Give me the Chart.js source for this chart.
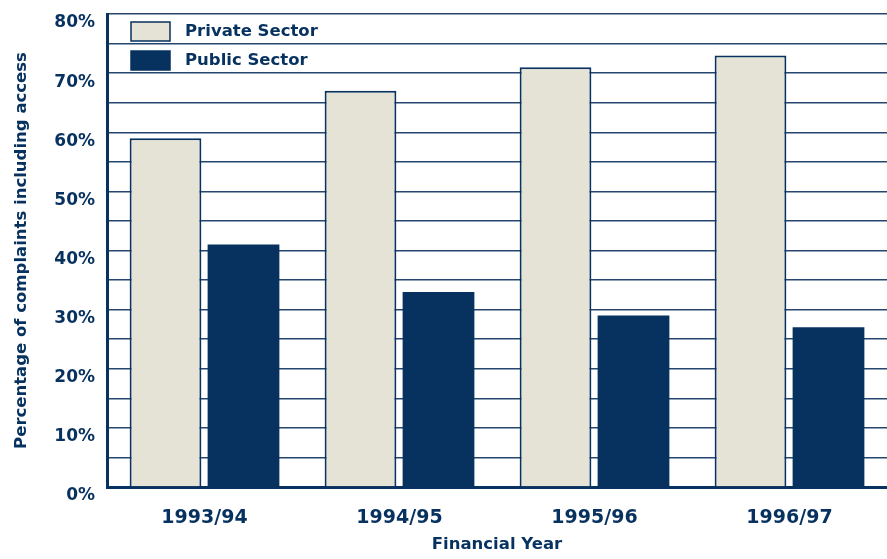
<html>
<head>
    <title>Complaints including access</title>
    <script src="https://cdn.jsdelivr.net/npm/chart.js"></script>
    <style>
        body { margin: 0; background: #fff; }
        #wrap { width: 887px; height: 559px; }
    </style>
</head>
<body>
<div id="wrap"><canvas id="chart" width="887" height="559"></canvas></div>

<script>
    // data
    const years = ['1993/94', '1994/95', '1995/96', '1996/97'];
    const privateSector = [59, 67, 71, 73];
    const publicSector = [41, 33, 29, 27];

    const navy = '#07325f';
    const beige = '#e5e3d6';
    const font = 'DejaVu Sans';

    // legend drawn inside the plot area, top left
    const boxLegend = {
        id: 'boxLegend',
        afterDraw(chart) {
            const c = chart.ctx;
            const a = chart.chartArea;
            chart.data.datasets.forEach((ds, i) => {
                const y = a.top + 8 + i * 29;
                c.save();
                c.fillStyle = ds.backgroundColor;
                c.fillRect(a.left + 24, y, 39, 19);
                c.strokeStyle = navy;
                c.lineWidth = 1.5;
                c.strokeRect(a.left + 24, y, 39, 19);
                c.fillStyle = navy;
                c.font = 'bold 16.5px ' + font;
                c.textBaseline = 'middle';
                c.fillText(ds.label, a.left + 78, y + 10);
                c.restore();
            });
        }
    };

    const ctx = document.getElementById('chart').getContext('2d');
    new Chart(ctx, {
        type: 'bar',
        data: {
            labels: years,
            datasets: [{
                label: 'Private Sector',
                data: privateSector,
                backgroundColor: beige,
                borderColor: navy,
                borderWidth: 2
            }, {
                label: 'Public Sector',
                data: publicSector,
                backgroundColor: navy,
                borderColor: navy,
                borderWidth: 0
            }]
        },
        options: {
            responsive: false,
            animation: false,
            layout: { padding: { top: 14, right: 0 } },
            datasets: {
                bar: { categoryPercentage: 0.8, barPercentage: 0.92 }
            },
            plugins: {
                legend: { display: false },
                tooltip: { enabled: false }
            },
            scales: {
                x: {
                    grid: { display: false },
                    border: { color: navy, width: 3 },
                    ticks: {
                        color: navy,
                        font: { family: font, size: 19, weight: 'bold' },
                        padding: 12
                    },
                    title: {
                        display: true,
                        text: 'Financial Year',
                        color: navy,
                        font: { family: font, size: 16.5, weight: 'bold' },
                        padding: { top: 6 }
                    },
                    afterFit(scale) { scale.height = 72; }
                },
                y: {
                    min: 0,
                    max: 80,
                    grid: { color: '#25466f', lineWidth: 1.5, drawTicks: false },
                    border: { color: navy, width: 3 },
                    ticks: {
                        stepSize: 5,
                        color: navy,
                        padding: 12,
                        labelOffset: 9,
                        font: { family: font, size: 17, weight: 'bold' },
                        callback: v => (v % 10 === 0 ? v + '%' : '')
                    },
                    title: {
                        display: true,
                        text: 'Percentage of complaints including access',
                        color: navy,
                        font: { family: font, size: 16.5, weight: 'bold' },
                        padding: { top: 12, bottom: 0 }
                    },
                    afterFit(scale) {
                        scale.width = 107;
                        scale.paddingTop = 0;
                        scale.paddingBottom = 0;
                    }
                }
            }
        },
        plugins: [boxLegend]
    });
</script>
</body>
</html>
